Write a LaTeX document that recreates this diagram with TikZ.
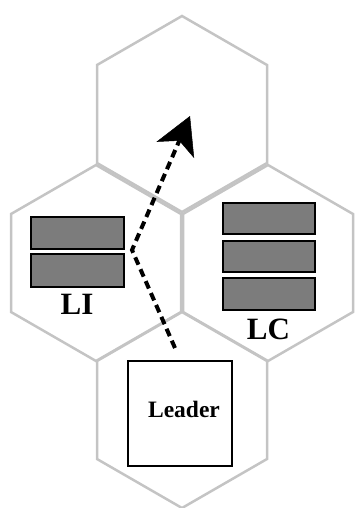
\documentclass[tikz,border=0pt]{standalone}
\usepackage{fontspec}
\setmainfont{Liberation Serif}
\usetikzlibrary{arrows.meta}
\definecolor{hexgray}{RGB}{196,196,196}
\definecolor{boxgray}{RGB}{124,124,124}
\begin{document}
\begin{tikzpicture}[x=1pt,y=-1pt,
  hexcell/.style={draw=hexgray,line width=2.5pt,line join=miter},
  stack/.style={draw=black,fill=boxgray,line width=1.8pt,inner sep=0pt,outer sep=0pt},
  leaderbox/.style={draw=black,fill=white,line width=1.8pt,inner sep=0pt,minimum width=104pt,minimum height=105pt},
  biglabel/.style={font=\fontsize{31}{31}\selectfont\bfseries,anchor=base,inner sep=0pt},
  smalllabel/.style={font=\fontsize{23.5}{23.5}\selectfont\bfseries,anchor=base,inner sep=0pt},
  flow/.style={line width=4pt,dash pattern=on 8pt off 5pt,
    -{Stealth[length=37pt,width=41pt,inset=10pt,line width=0.5pt]}}]
\useasboundingbox (0,0) rectangle (354,508);
% honeycomb cells
\foreach \n/\cx/\cy in {top/182/114,left/96/263,right/268/263,bottom/182/410}{
  \coordinate (\n) at (\cx,\cy);
  \draw[hexcell] (\cx,\cy-98) -- (\cx+85,\cy-49) -- (\cx+85,\cy+49) -- (\cx,\cy+98)
     -- (\cx-85,\cy+49) -- (\cx-85,\cy-49) -- cycle;
}
% LI stack
\node[stack,minimum width=93pt,minimum height=32pt] (li1) at (77.5,233) {};
\node[stack,minimum width=93pt,minimum height=33pt] (li2) at (77.5,270.5) {};
\node[biglabel] (litxt) at (77,314) {LI};
% LC stack
\node[stack,minimum width=92pt,minimum height=31pt] (lc1) at (269,218.5) {};
\node[stack,minimum width=92pt,minimum height=31pt] (lc2) at (269,256.5) {};
\node[stack,minimum width=92pt,minimum height=32pt] (lc3) at (269,294) {};
\node[biglabel] (lctxt) at (268.5,339) {LC};
% Leader
\node[leaderbox] (lead) at (180,413.5) {};
\node[smalllabel] (leadtxt) at (184,417) {Leader};
% movement arrow
\coordinate (a0) at (175,348);
\coordinate (a1) at (132,250);
\coordinate (a2) at (190,116);
\draw[flow] (a0) -- (a1) -- (a2);
\end{tikzpicture}
\end{document}
